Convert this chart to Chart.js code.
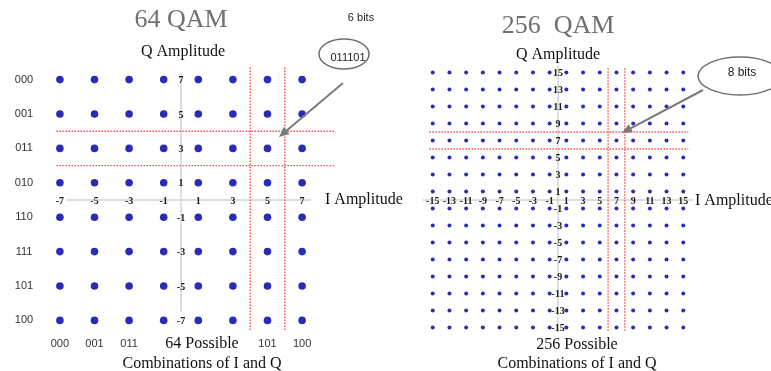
<!DOCTYPE html>
<html>
<head>
<meta charset="utf-8">
<script src="https://cdn.jsdelivr.net/npm/chart.js@4.4.1/dist/chart.umd.min.js"></script>
<style>
  html, body { margin: 0; padding: 0; background: #fff; }
  #wrap { position: relative; width: 771px; height: 371px; overflow: hidden; }
  canvas { position: absolute; top: 0; }
  #qam64 { left: 0; }
  #qam256 { left: 410px; }
</style>
</head>
<body>
<div id="wrap">
  <canvas id="qam64" width="410" height="371"></canvas>
  <canvas id="qam256" width="361" height="371"></canvas>
</div>
<script>
// 64 QAM: amplitude levels on both I and Q, gray codes per row / column
const qam64Levels = [-7, -5, -3, -1, 1, 3, 5, 7];
const qam64RowCodes = ['000', '001', '011', '010', '110', '111', '101', '100']; // Q = 7 .. -7
const qam64ColCodes = ['000', '001', '011', '', '', '', '101', '100'];          // I = -7 .. 7 (middle hidden by caption)
const qam64MarkI = [4, 6];   // red dotted verticals
const qam64MarkQ = [4, 2];   // red dotted horizontals

// 256 QAM
const qam256Levels = [-15, -13, -11, -9, -7, -5, -3, -1, 1, 3, 5, 7, 9, 11, 13, 15];
const qam256MarkI = [6, 8];
const qam256MarkQ = [8, 6];

const SERIF = '"Liberation Serif", "DejaVu Serif", serif';
const SANS = '"Liberation Sans", Arial, sans-serif';

const gridPoints = levels => levels.flatMap(q => levels.map(i => ({ x: i, y: q })));

const qamDecor = {
  id: 'qamDecor',
  beforeDatasetsDraw(chart, args, o) {
    const { ctx, scales: { x, y } } = chart;
    ctx.save();
    ctx.strokeStyle = '#d4d4d4';
    ctx.lineWidth = 1.5;
    ctx.beginPath();
    ctx.moveTo(x.getPixelForValue(o.axisI[0]), y.getPixelForValue(0));
    ctx.lineTo(x.getPixelForValue(o.axisI[1]), y.getPixelForValue(0));
    ctx.moveTo(x.getPixelForValue(0), y.getPixelForValue(o.axisQ[0]));
    ctx.lineTo(x.getPixelForValue(0), y.getPixelForValue(o.axisQ[1]));
    ctx.stroke();
    ctx.restore();
  },
  afterDatasetsDraw(chart, args, o) {
    const { ctx, scales: { x, y } } = chart;
    ctx.save();

    // red dotted boxes round the marked symbol
    ctx.strokeStyle = '#ff4f4f';
    ctx.lineWidth = 1.4;
    ctx.setLineDash([1.5, 1.5]);
    ctx.beginPath();
    o.markQ.forEach(q => {
      ctx.moveTo(x.getPixelForValue(o.redI[0]), y.getPixelForValue(q));
      ctx.lineTo(x.getPixelForValue(o.redI[1]), y.getPixelForValue(q));
    });
    o.markI.forEach(i => {
      ctx.moveTo(x.getPixelForValue(i), y.getPixelForValue(o.redQ[0]));
      ctx.lineTo(x.getPixelForValue(i), y.getPixelForValue(o.redQ[1]));
    });
    ctx.stroke();
    ctx.setLineDash([]);

    // tick labels sit right on the axes
    ctx.fillStyle = '#1a1a1a';
    ctx.font = 'bold 10px ' + SERIF;
    ctx.textAlign = 'center';
    ctx.textBaseline = 'middle';
    o.levels.forEach(v => {
      ctx.fillText(String(v), x.getPixelForValue(v), y.getPixelForValue(0) + 1);
      ctx.fillText(String(v), x.getPixelForValue(0), y.getPixelForValue(v) + 1);
    });

    // bit codes along the rows and columns
    if (o.rowCodes) {
      ctx.font = '11px ' + SANS;
      ctx.fillStyle = '#333';
      const rows = o.levels.slice().reverse();
      rows.forEach((q, k) => ctx.fillText(o.rowCodes[k], o.rowCodeX, y.getPixelForValue(q)));
      o.levels.forEach((i, k) => ctx.fillText(o.colCodes[k], x.getPixelForValue(i), o.colCodeY));
    }

    // callout ellipse + arrow
    const c = o.callout;
    ctx.strokeStyle = '#6e6e6e';
    ctx.lineWidth = 1.5;
    ctx.beginPath();
    ctx.ellipse(c.cx, c.cy, c.rx, c.ry, 0, 0, Math.PI * 2);
    ctx.stroke();
    ctx.fillStyle = '#222';
    ctx.font = c.font;
    ctx.fillText(c.text, c.tx, c.ty);

    const a = o.arrow;
    const ang = Math.atan2(a.y2 - a.y1, a.x2 - a.x1);
    ctx.strokeStyle = '#7a7a7a';
    ctx.fillStyle = '#7a7a7a';
    ctx.lineWidth = 2;
    ctx.beginPath();
    ctx.moveTo(a.x1, a.y1);
    ctx.lineTo(a.x2 - 7 * Math.cos(ang), a.y2 - 7 * Math.sin(ang));
    ctx.stroke();
    ctx.beginPath();
    ctx.moveTo(a.x2, a.y2);
    ctx.lineTo(a.x2 - 10 * Math.cos(ang) + 4.5 * Math.sin(ang), a.y2 - 10 * Math.sin(ang) - 4.5 * Math.cos(ang));
    ctx.lineTo(a.x2 - 10 * Math.cos(ang) - 4.5 * Math.sin(ang), a.y2 - 10 * Math.sin(ang) + 4.5 * Math.cos(ang));
    ctx.closePath();
    ctx.fill();

    // titles and captions
    o.texts.forEach(t => {
      ctx.font = t.font;
      ctx.fillStyle = t.color || '#111';
      ctx.textAlign = t.align || 'center';
      ctx.fillText(t.text, t.x, t.y);
    });
    ctx.restore();
  }
};

function makeChart(id, levels, range, radius, padding, decor) {
  return new Chart(document.getElementById(id), {
    type: 'scatter',
    data: {
      datasets: [{
        data: gridPoints(levels),
        pointRadius: radius,
        pointHoverRadius: radius,
        pointBackgroundColor: '#2b2cb6',
        pointBorderWidth: 0,
        clip: false
      }]
    },
    options: {
      responsive: false,
      animation: false,
      devicePixelRatio: 1,
      layout: { padding },
      scales: {
        x: { type: 'linear', min: -range, max: range, display: false },
        y: { type: 'linear', min: -range, max: range, display: false }
      },
      plugins: {
        legend: { display: false },
        tooltip: { enabled: false },
        qamDecor: Object.assign({ levels }, decor)
      }
    },
    plugins: [qamDecor]
  });
}

makeChart('qam64', qam64Levels, 8, 3.8,
  { left: 42.6, right: 90.6, top: 62.4, bottom: 33.4 },
  {
    markI: qam64MarkI, markQ: qam64MarkQ,
    redI: [-7.2, 8.9], redQ: [7.7, -7.6],
    axisI: [-6.6, 7.5], axisQ: [7.4, -6.5],
    rowCodes: qam64RowCodes, colCodes: qam64ColCodes, rowCodeX: 24, colCodeY: 344,
    callout: { cx: 344, cy: 54, rx: 25, ry: 15, text: '011101', tx: 348, ty: 58, font: '11px ' + SANS },
    arrow: { x1: 343, y1: 83, x2: 279, y2: 137 },
    texts: [
      { text: '64 QAM', x: 181, y: 20, font: '26px ' + SERIF, color: '#707070' },
      { text: 'Q Amplitude', x: 183, y: 52, font: '16px ' + SERIF },
      { text: 'I Amplitude', x: 325, y: 200, font: '16px ' + SERIF, align: 'left' },
      { text: '64 Possible', x: 202, y: 344, font: '16px ' + SERIF },
      { text: 'Combinations of I and Q', x: 202, y: 364, font: '16px ' + SERIF },
      { text: '6 bits', x: 361, y: 18, font: '11px ' + SANS, color: '#222' }
    ]
  });

makeChart('qam256', qam256Levels, 16, 2,
  { left: 14.4, right: 79.4, top: 64, bottom: 35 },
  {
    markI: qam256MarkI, markQ: qam256MarkQ,
    redI: [-15.4, 15.6], redQ: [15.5, -15.5],
    axisI: [-16.2, 16.2], axisQ: [15.8, -15.6],
    callout: { cx: 330, cy: 76, rx: 42, ry: 19, text: '8 bits', tx: 332, ty: 73, font: '12px ' + SANS },
    arrow: { x1: 293, y1: 90, x2: 212, y2: 133 },
    texts: [
      { text: '256  QAM', x: 148, y: 26, font: '26px ' + SERIF, color: '#707070' },
      { text: 'Q Amplitude', x: 148, y: 55, font: '16px ' + SERIF },
      { text: 'I Amplitude', x: 285, y: 201, font: '16px ' + SERIF, align: 'left' },
      { text: '256 Possible', x: 167, y: 345, font: '16px ' + SERIF },
      { text: 'Combinations of I and Q', x: 167, y: 364, font: '16px ' + SERIF }
    ]
  });
</script>
</body>
</html>
